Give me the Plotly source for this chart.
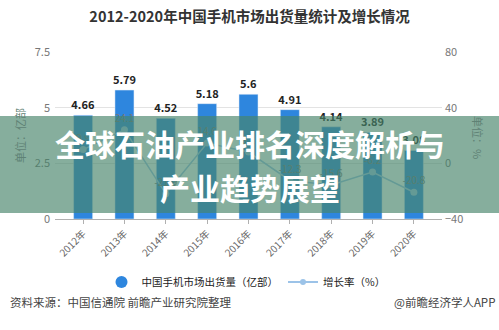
import plotly.graph_objects as go

years = ["2012年", "2013年", "2014年", "2015年", "2016年", "2017年", "2018年", "2019年", "2020年"]
shipments = [4.66, 5.79, 4.52, 5.18, 5.6, 4.91, 4.14, 3.89, 3.08]
growth = [9.9, 24.1, -21.9, 14.6, 8.1, -12.3, -15.6, -6.2, -20.8]

title_text = "2012-2020年中国手机市场出货量统计及增长情况"
series_bar = "中国手机市场出货量（亿部）"
series_line = "增长率（%）"
banner_lines = ["全球石油产业排名深度解析与", "产业趋势展望"]
source_text = "资料来源：中国信通院 前瞻产业研究院整理"
credit_text = "@前瞻经济学人APP"

FONT = "Noto Sans CJK SC"
BAR_COLOR = "#2e86de"
LINE_COLOR = "#9cc3e8"

W, H = 499, 330
ML, MR, MT, MB = 55, 57, 52, 111
PW = W - ML - MR
PH = H - MT - MB


def px_x(px):
    return (px - ML) / PW


def px_y(py):
    return (H - MB - py) / PH


fig = go.Figure()

fig.add_trace(go.Bar(
    x=years, y=shipments, width=0.46, marker_color=BAR_COLOR,
    text=[f"{v:g}" for v in shipments], textposition="outside",
    constraintext="none", cliponaxis=False,
    textfont=dict(family=FONT, size=11, color="#222222", weight="bold"),
    showlegend=False, yaxis="y",
))

fig.add_trace(go.Scatter(
    x=years, y=growth, mode="lines+markers+text", yaxis="y2",
    line=dict(color=LINE_COLOR, width=1.5),
    marker=dict(color=LINE_COLOR, size=7),
    text=[f"{v:g}" for v in growth], textposition="top center",
    textfont=dict(family=FONT, size=10, color="#777777"),
    cliponaxis=False, showlegend=False,
))

# legend entries
fig.add_trace(go.Scatter(
    x=[None], y=[None], mode="markers", name=series_bar,
    marker=dict(color=BAR_COLOR, size=12, symbol="circle"),
))
fig.add_trace(go.Scatter(
    x=[None], y=[None], mode="lines+markers", name=series_line,
    line=dict(color=LINE_COLOR, width=2), marker=dict(color=LINE_COLOR, size=6),
))

fig.update_layout(
    width=W, height=H, margin=dict(l=ML, r=MR, t=MT, b=MB, autoexpand=False),
    paper_bgcolor="white", plot_bgcolor="white",
    font=dict(family=FONT, color="#666666"),
    title=dict(text=title_text, x=0.5, xref="container", y=1 - 17 / H,
               yref="container", xanchor="center", yanchor="middle",
               font=dict(family=FONT, size=14.5, color="#333333", weight="bold")),
    xaxis=dict(
        type="category", range=[-0.68, 8.68], tickangle=-45,
        tickfont=dict(family=FONT, size=10, color="#666666"),
        showline=True, linecolor="#b0b0b0", linewidth=1,
        ticks="outside", ticklen=4, tickcolor="#b0b0b0",
        showgrid=False, fixedrange=True,
    ),
    yaxis=dict(
        range=[0, 7.5], dtick=2.5, tick0=0, showgrid=True, gridcolor="#e3e3e3",
        gridwidth=1, zeroline=False, showline=False,
        tickfont=dict(family=FONT, size=11, color="#777777"),
        ticks="", ticklabelstandoff=4,
    ),
    yaxis2=dict(
        range=[-40, 80], dtick=40, tick0=-40, overlaying="y", side="right",
        showgrid=False, zeroline=False, showline=False,
        tickfont=dict(family=FONT, size=11, color="#777777"),
        ticks="", ticklabelstandoff=2,
    ),
    legend=dict(
        orientation="h", x=px_x(246), xanchor="center", y=px_y(282),
        yanchor="middle", font=dict(family=FONT, size=10.5, color="#222222"),
        bgcolor="rgba(0,0,0,0)", itemwidth=30, tracegroupgap=0,
    ),
)

# semi-transparent banner across the chart
fig.add_shape(
    type="rect", xref="paper", yref="paper",
    x0=px_x(-5), x1=px_x(W + 5), y0=px_y(213), y1=px_y(116),
    fillcolor="rgba(72,132,106,0.66)", line=dict(width=0), layer="above",
)

annotations = [
    dict(text=banner_lines[0], x=px_x(250), y=px_y(143), xref="paper", yref="paper",
         showarrow=False, xanchor="center", yanchor="middle",
         font=dict(family=FONT, size=30, color="white", weight="bold")),
    dict(text=banner_lines[1], x=px_x(250), y=px_y(187), xref="paper", yref="paper",
         showarrow=False, xanchor="center", yanchor="middle",
         font=dict(family=FONT, size=30, color="white", weight="bold")),
    dict(text="单位：亿部", x=px_x(20), y=px_y(136), xref="paper", yref="paper",
         showarrow=False, textangle=-90, xanchor="center", yanchor="middle",
         font=dict(family=FONT, size=11, color="#5f8275")),
    dict(text="单位：%", x=px_x(478), y=px_y(137), xref="paper", yref="paper",
         showarrow=False, textangle=90, xanchor="center", yanchor="middle",
         font=dict(family=FONT, size=11, color="#5f8275")),
    dict(text=source_text, x=px_x(8), y=px_y(302), xref="paper", yref="paper",
         showarrow=False, xanchor="left", yanchor="middle",
         font=dict(family=FONT, size=11.5, color="#444444")),
    dict(text=credit_text, x=px_x(497), y=px_y(302), xref="paper", yref="paper",
         showarrow=False, xanchor="right", yanchor="middle",
         font=dict(family=FONT, size=11.5, color="#444444")),
]
fig.update_layout(annotations=annotations)

fig.write_html("out.html")
